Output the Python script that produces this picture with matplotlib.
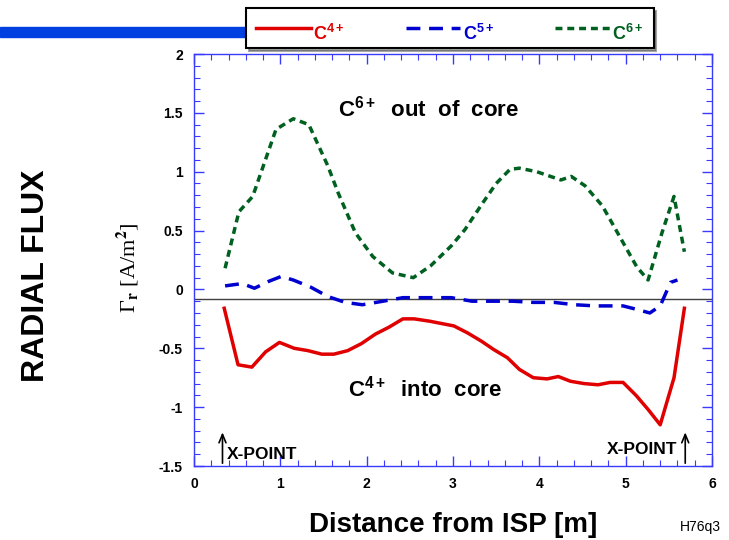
import matplotlib
matplotlib.use("Agg")
import matplotlib.pyplot as plt
from matplotlib.font_manager import FontProperties
from matplotlib.ticker import MultipleLocator

# C6+ (out of core)
x_c6 = [0.36, 0.52, 0.68, 0.95, 1.15, 1.33, 1.55, 1.67, 1.87, 2.07, 2.30, 2.54,
        2.74, 2.98, 3.14, 3.34, 3.50, 3.66, 3.77, 3.97, 4.13, 4.25, 4.37, 4.53,
        4.73, 4.93, 5.13, 5.26, 5.42, 5.56, 5.68]
y_c6 = [0.18, 0.66, 0.79, 1.36, 1.45, 1.40, 1.05, 0.82, 0.48, 0.28, 0.14, 0.10,
        0.20, 0.37, 0.51, 0.73, 0.90, 1.02, 1.03, 1.00, 0.96, 0.93, 0.96, 0.88,
        0.71, 0.45, 0.19, 0.08, 0.48, 0.79, 0.32]

# C5+
x_c5 = [0.36, 0.56, 0.70, 0.87, 1.01, 1.15, 1.35, 1.55, 1.75, 1.95, 2.19, 2.42,
        2.74, 2.98, 3.22, 3.46, 3.69, 3.93, 4.17, 4.41, 4.65, 4.97, 5.13, 5.28,
        5.40, 5.52, 5.60]
y_c5 = [0.03, 0.05, 0.01, 0.07, 0.11, 0.08, 0.02, -0.06, -0.11, -0.13, -0.10, -0.07,
        -0.07, -0.07, -0.10, -0.10, -0.10, -0.11, -0.11, -0.13, -0.14, -0.14, -0.17, -0.20,
        -0.14, 0.06, 0.08]

# C4+ (into core)
x_c4 = [0.35, 0.51, 0.67, 0.83, 0.99, 1.16, 1.32, 1.48, 1.62, 1.78, 1.94, 2.10,
        2.26, 2.42, 2.55, 2.73, 2.87, 3.01, 3.17, 3.33, 3.47, 3.63, 3.77, 3.93,
        4.09, 4.22, 4.36, 4.52, 4.68, 4.82, 4.97, 5.12, 5.26, 5.40, 5.56, 5.68]
y_c4 = [-0.16, -0.64, -0.66, -0.53, -0.45, -0.50, -0.52, -0.55, -0.55, -0.52, -0.46, -0.38,
        -0.32, -0.25, -0.25, -0.27, -0.29, -0.31, -0.37, -0.44, -0.51, -0.58, -0.68, -0.75,
        -0.76, -0.74, -0.78, -0.80, -0.81, -0.79, -0.79, -0.90, -1.02, -1.15, -0.75, -0.16]

baseline = -0.08
xpoints = [0.33, 5.69]
labels = ['C$^{4+}$', 'C$^{5+}$', 'C$^{6+}$']

plt.rcParams['font.family'] = ['Liberation Sans', 'DejaVu Sans']
plt.rcParams['font.weight'] = 'bold'
plt.rcParams['mathtext.fontset'] = 'custom'
plt.rcParams['mathtext.rm'] = 'Liberation Sans:bold'
plt.rcParams['mathtext.it'] = 'Liberation Sans:bold'
plt.rcParams['mathtext.bf'] = 'Liberation Sans:bold'

fig = plt.figure(figsize=(7.29, 5.4), dpi=100)
ax = fig.add_axes([194 / 729, 1 - 466 / 540, (712 - 194) / 729, (466 - 54) / 540])

frame_col = '#3a3aff'
red, blue, green = '#e00000', '#0000d0', '#006020'

ax.axhline(baseline, color='#404040', lw=1.0, zorder=1)
l4, = ax.plot(x_c4, y_c4, color=red, lw=2.5, solid_joinstyle='round')
l5, = ax.plot(x_c5, y_c5, color=blue, lw=2.5, dashes=(4, 2.5))
l6, = ax.plot(x_c6, y_c6, color=green, lw=2.5, dashes=(2, 1.4))

ax.set_xlim(0, 6)
ax.set_ylim(-1.5, 2)
ax.xaxis.set_major_locator(MultipleLocator(1))
ax.xaxis.set_minor_locator(MultipleLocator(0.2))
ax.yaxis.set_major_locator(MultipleLocator(0.5))
ax.yaxis.set_minor_locator(MultipleLocator(0.1))
ax.set_yticks([2, 1.5, 1, 0.5, 0, -0.5, -1, -1.5])
ax.set_yticklabels(['2', '1.5', '1', '0.5', '0', '-0.5', '-1', '-1.5'])
ax.tick_params(which='both', direction='in', top=True, right=True, color=frame_col,
               labelsize=10, pad=8)
ax.tick_params(which='major', length=7, width=1)
ax.tick_params(which='minor', length=4, width=0.8)
for s in ax.spines.values():
    s.set_color(frame_col)
    s.set_linewidth(1)
for lab in ax.get_xticklabels() + ax.get_yticklabels():
    lab.set_fontweight('bold')

ax.text(2.72, 1.54, 'C$^{6+}$  out  of  core', ha='center', va='center',
        fontsize=16, fontweight='bold')
ax.text(2.68, -0.84, 'C$^{4+}$  into  core', ha='center', va='center',
        fontsize=16, fontweight='bold')

for xp in xpoints:
    ax.annotate('', xy=(xp, -1.19), xytext=(xp, -1.5),
                arrowprops=dict(arrowstyle='->,head_length=0.6,head_width=0.25',
                                color='black', lw=1.2))
ax.text(xpoints[0] + 0.05, -1.40, 'X-POINT', ha='left', va='center', fontsize=12.5,
        fontweight='bold')
ax.text(xpoints[1] - 0.09, -1.36, 'X-POINT', ha='right', va='center', fontsize=12.5,
        fontweight='bold')

ax.set_xlabel('Distance from ISP [m]', fontsize=20, fontweight='bold', labelpad=15)
fig.text(128 / 729, 1 - 268 / 540, r'Γ$_{\rm r}$ [A/m$^{2}$]', rotation=90,
         ha='center', va='center',
         fontproperties=FontProperties(family='Liberation Serif', size=16,
                                       weight='normal', math_fontfamily='stix'))
fig.text(36 / 729, 1 - 276 / 540, 'RADIAL FLUX', rotation=90, ha='center', va='center',
         fontsize=23, fontweight='bold')
fig.text(700 / 729, 1 - 527 / 540, 'H76q3', ha='center', va='center', fontsize=10,
         fontweight='normal')

# decorative blue bar behind the legend
fig.patches.append(plt.Rectangle((0, 1 - 37 / 540), 250 / 729, 10 / 540,
                                 transform=fig.transFigure, color='#0040e0', zorder=0))

leg = fig.legend([l4, l5, l6], labels,
                 ncol=3, loc='center', bbox_to_anchor=(450 / 729, 1 - 28 / 540),
                 frameon=True, fancybox=False, shadow=True, edgecolor='black',
                 handlelength=3.0, handletextpad=0.15, columnspacing=3.4,
                 prop={'weight': 'bold', 'size': 13}, borderpad=0.55)
leg.get_frame().set_linewidth(1.5)
for t, c in zip(leg.get_texts(), [red, blue, green]):
    t.set_color(c)
    t.set_va('center')

fig.savefig('out.png', dpi=100)
